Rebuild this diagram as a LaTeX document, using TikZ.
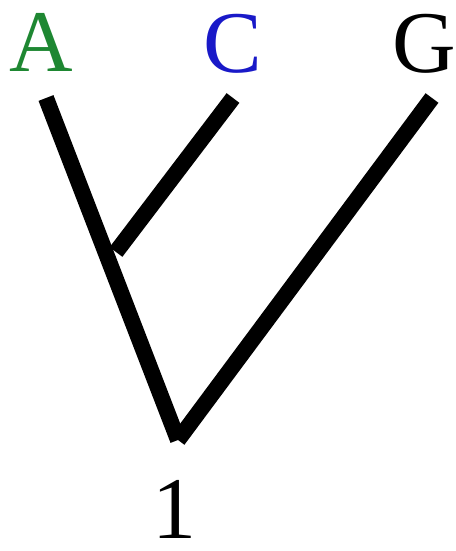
\documentclass[tikz,border=0pt]{standalone}
\usepackage{fontspec}
\setmainfont{Liberation Serif}
\definecolor{agreen}{RGB}{30,135,50}
\definecolor{cblue}{RGB}{25,25,200}
\begin{document}
\begin{tikzpicture}[x=1pt,y=-1pt,
  lbl/.style={inner sep=0pt,anchor=base,font=\fontsize{88}{88}\selectfont},
  branch/.style={line width=16pt,line cap=butt}]
\useasboundingbox (0,0) rectangle (455,551);
\node[lbl,text=agreen] (A) at (41,71) {A};
\node[lbl,text=cblue] (C) at (233,73) {C};
\node[lbl] (G) at (424,73) {G};
\node[lbl,text depth=0pt] (one) at (174,538) {1};
\coordinate (a) at (46,98);
\coordinate (c) at (233,98);
\coordinate (g) at (432,98);
\coordinate (r) at (178,440);
\coordinate (j) at (116,252);
\draw[branch] (a) -- (r);
\draw[branch] (g) -- (r);
\draw[branch] (c) -- (j);
\end{tikzpicture}
\end{document}
